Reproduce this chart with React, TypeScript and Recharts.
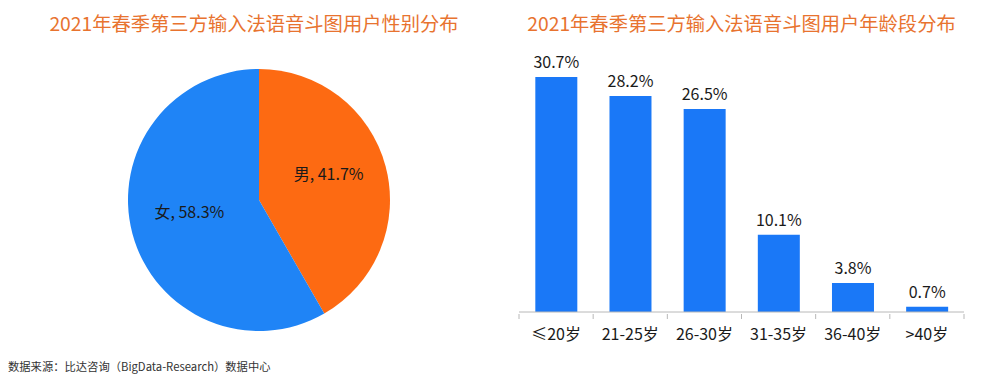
import { PieChart, Pie, Cell, BarChart, Bar, XAxis, YAxis, LabelList } from 'recharts';

const genderNames = ['男', '女'];
const genderValues = [41.7, 58.3];
const genderColors = ['#fd6a12', '#1f84f6'];

const ageGroups = ['≤20岁', '21-25岁', '26-30岁', '31-35岁', '36-40岁', '>40岁'];
const ageValues = [30.7, 28.2, 26.5, 10.1, 3.8, 0.7];

const leftTitle = '2021年春季第三方输入法语音斗图用户性别分布';
const rightTitle = '2021年春季第三方输入法语音斗图用户年龄段分布';
const sourceNote = '数据来源：比达咨询（BigData-Research）数据中心';

const FONT = '"Noto Sans CJK SC", "Noto Sans", sans-serif';
const TITLE_COLOR = '#e8732f';
const BAR_COLOR = '#1a78f7';
const AXIS_COLOR = '#b8b8b8';

const pieData = genderNames.map((name, i) => ({ name, value: genderValues[i] }));
const barData = ageGroups.map((group, i) => ({ group, value: ageValues[i] }));

const RADIAN = Math.PI / 180;

function PieLabel(props: any) {
  const { cx, cy, midAngle, outerRadius, name, value } = props;
  const r = outerRadius * 0.55;
  const x = cx + r * Math.cos(-midAngle * RADIAN);
  const y = cy + r * Math.sin(-midAngle * RADIAN) - 8;
  return (
    <text x={x} y={y} textAnchor="middle" dominantBaseline="central" fill="#1a1a1a" fontSize={16} fontFamily={FONT}>
      {`${name}, ${value}%`}
    </text>
  );
}

// plot width 445 split over 6 categories
const BAND = 445 / ageGroups.length;

function AgeTick(props: any) {
  const { x, y, payload, index } = props;
  const left = x - BAND / 2;
  const right = x + BAND / 2;
  const top = y - 5;
  return (
    <g>
      <line x1={left} y1={top} x2={left} y2={top + 5} stroke={AXIS_COLOR} />
      {index === ageGroups.length - 1 && <line x1={right} y1={top} x2={right} y2={top + 5} stroke={AXIS_COLOR} />}
      <text x={x} y={y + 14} textAnchor="middle" dominantBaseline="central" fill="#1a1a1a" fontSize={16} fontFamily={FONT}>
        {payload.value}
      </text>
    </g>
  );
}

export default function App() {
  return (
    <div style={{ position: 'absolute', left: 0, top: 0, width: 1000, height: 374, background: '#fff', fontFamily: FONT }}>
      <div style={{ position: 'absolute', left: 0, top: 9, width: 508, textAlign: 'center', fontSize: 19.3, lineHeight: '28px', color: TITLE_COLOR }}>
        {leftTitle}
      </div>
      <div style={{ position: 'absolute', left: 500, top: 9, width: 483, textAlign: 'center', fontSize: 19.3, lineHeight: '28px', color: TITLE_COLOR }}>
        {rightTitle}
      </div>

      <div style={{ position: 'absolute', left: 0, top: 0 }}>
        <PieChart width={500} height={374}>
          <Pie
            data={pieData}
            dataKey="value"
            nameKey="name"
            cx={254}
            cy={195}
            outerRadius={131}
            startAngle={90}
            endAngle={-270}
            stroke="none"
            label={PieLabel}
            labelLine={false}
            isAnimationActive={false}
          >
            {pieData.map((d, i) => (
              <Cell key={d.name} fill={genderColors[i]} />
            ))}
          </Pie>
        </PieChart>
      </div>

      <div style={{ position: 'absolute', left: 500, top: 0 }}>
        <BarChart width={500} height={374} data={barData} margin={{ top: 44, right: 36, bottom: 32, left: 19 }} barCategoryGap="22%">
          <XAxis
            dataKey="group"
            height={30}
            axisLine={{ stroke: AXIS_COLOR }}
            tickLine={false}
            tickSize={5}
            tick={AgeTick}
            interval={0}
          />
          <YAxis hide domain={[0, 35]} />
          <Bar dataKey="value" fill={BAR_COLOR} isAnimationActive={false}>
            <LabelList
              dataKey="value"
              position="top"
              offset={9}
              formatter={(v: any) => `${v}%`}
              style={{ fill: '#1a1a1a', fontSize: 16, fontFamily: FONT }}
            />
          </Bar>
        </BarChart>
      </div>

      <div style={{ position: 'absolute', left: 8, top: 358, fontSize: 11.3, lineHeight: '16px', color: '#333' }}>
        {sourceNote}
      </div>
    </div>
  );
}
